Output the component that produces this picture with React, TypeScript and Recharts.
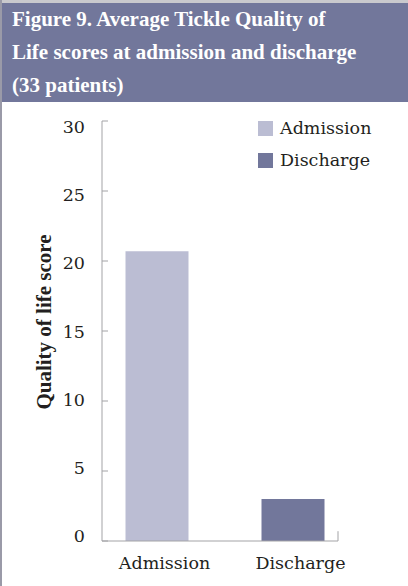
import { Bar, BarChart, Legend, ReferenceLine, XAxis, YAxis } from "recharts";

const categories = ["Admission", "Discharge"];
const admissionScores = [20.7, 0];
const dischargeScores = [0, 3.0];
const yTicks = [0, 5, 10, 15, 20, 25, 30];
const titleLines = [
  "Figure 9. Average Tickle Quality of",
  "Life scores at admission and discharge",
  "(33 patients)",
];

const data = categories.map((category, i) => ({
  category,
  Admission: admissionScores[i],
  Discharge: dischargeScores[i],
}));

// bold serif for headings, regular serif for ticks and legend
const boldSerif = '"Liberation Serif", "Times New Roman", serif';
const serif = '"DejaVu Serif", serif';
const headerColor = "#72779b";
const axisColor = "#a3a3a6";
const textColor = "#231f20";

function YTick({ x, y, payload }: any) {
  return (
    <g>
      <line x1={x} x2={x + 6} y1={y} y2={y} stroke={axisColor} />
      <text
        x={x - 17}
        y={y}
        dy={1 + payload.value * 0.37}
        textAnchor="end"
        fontFamily={serif}
        fontSize={17.5}
        fill={textColor}
      >
        {payload.value}
      </text>
    </g>
  );
}

function XTick({ x, y, payload }: any) {
  return (
    <text x={x + 8} y={y} dy={28} textAnchor="middle" fontFamily={serif} fontSize={17.5} fill={textColor}>
      {payload.value}
    </text>
  );
}

function YTitle({ viewBox }: any) {
  const cx = 51;
  const cy = viewBox.y + viewBox.height / 2 - 9;
  return (
    <text
      x={cx}
      y={cy}
      transform={`rotate(-90, ${cx}, ${cy})`}
      textAnchor="middle"
      fontFamily={boldSerif}
      fontWeight="bold"
      fontSize={21}
      fill={textColor}
    >
      Quality of life score
    </text>
  );
}

function LegendList({ payload }: any) {
  return (
    <div>
      {(payload || []).map((entry: any) => (
        <div key={entry.value} style={{ display: "flex", alignItems: "center", height: 32 }}>
          <span style={{ width: 15, height: 15, background: entry.color, marginRight: 7 }} />
          <span style={{ fontFamily: serif, fontSize: 17.5, color: textColor }}>{entry.value}</span>
        </div>
      ))}
    </div>
  );
}

export default function App() {
  return (
    <div
      style={{
        position: "absolute",
        left: 0,
        top: 0,
        width: 408,
        height: 586,
        overflow: "hidden",
        background: "#fff",
        borderLeft: "2px solid #9a9aa8",
        boxSizing: "border-box",
        fontFamily: boldSerif,
      }}
    >
      <div
        style={{
          height: 102,
          background: headerColor,
          borderTop: "3px solid #c9c9cd",
          boxSizing: "border-box",
          paddingLeft: 10,
          color: "#fff",
          fontWeight: "bold",
          fontSize: 21,
          lineHeight: "33px",
        }}
      >
        {titleLines.map((line) => (
          <div key={line}>{line}</div>
        ))}
      </div>
      <div style={{ position: "absolute", left: -2, top: 102 }}>
        <BarChart width={408} height={484} data={data} margin={{ top: 19, right: 70, bottom: 0, left: 0 }}>
          <XAxis
            dataKey="category"
            height={45}
            padding={{ left: -13.5, right: -22.5 }}
            tickSize={0}
            tickMargin={0}
            tick={<XTick />}
            axisLine={{ stroke: axisColor }}
          />
          <XAxis xAxisId="frame" type="number" domain={[0, 1]} hide />
          <YAxis
            width={102}
            domain={[0, 30]}
            ticks={yTicks}
            interval={0}
            tickSize={0}
            tickMargin={0}
            tick={<YTick />}
            axisLine={{ stroke: axisColor }}
            label={<YTitle />}
          />
          <ReferenceLine
            xAxisId="frame"
            segment={[
              { x: 1, y: 0 },
              { x: 1, y: 0.7 },
            ]}
            stroke={axisColor}
          />
          <Legend
            layout="horizontal"
            verticalAlign="middle"
            align="center"
            wrapperStyle={{ left: 258, top: 10, width: 140, height: 64 }}
            content={<LegendList />}
          />
          <Bar dataKey="Admission" stackId="score" fill="#bbbdd3" barSize={63} isAnimationActive={false} />
          <Bar dataKey="Discharge" stackId="score" fill={headerColor} barSize={63} isAnimationActive={false} />
        </BarChart>
      </div>
    </div>
  );
}
